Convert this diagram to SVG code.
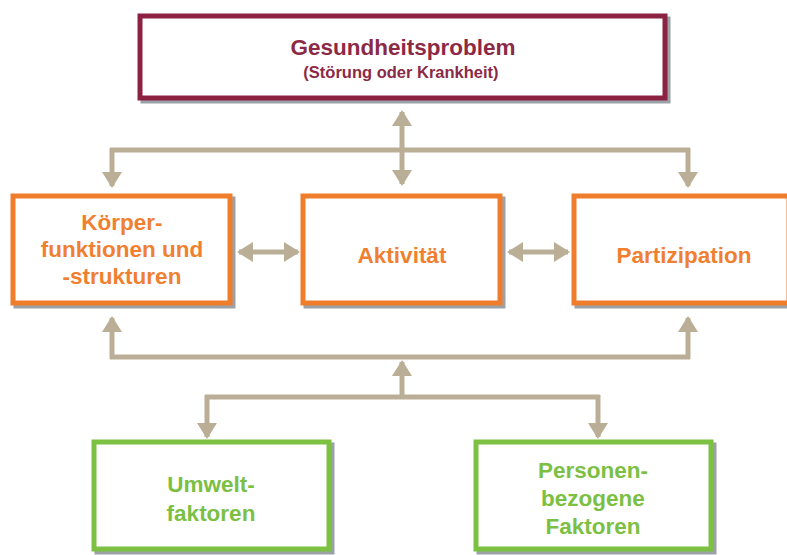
<svg xmlns="http://www.w3.org/2000/svg" width="787" height="555" viewBox="0 0 787 555">
<defs>
<marker id="ah" viewBox="0 0 16 20" refX="14" refY="10" markerWidth="16" markerHeight="20" markerUnits="userSpaceOnUse" orient="auto-start-reverse">
<path d="M0,0 L16,10 L0,20 Z" fill="#BAAF96"/>
</marker>
</defs>
<style>
.sh{fill:none;stroke:#9aa2a8;stroke-width:5}
.box{fill:#fff;stroke-width:5}
.red{stroke:#8C2242}
.org{stroke:#F07D2C}
.grn{stroke:#7DC143}
.t{font-family:"Liberation Sans",Arial,sans-serif;font-weight:bold;text-anchor:middle}
.tr{fill:#8C2A46}
.to{fill:#F07F30}
.tg{fill:#7BC043}
.c{fill:none;stroke:#BAAF96;stroke-width:5}
</style>
<rect width="787" height="555" fill="#fff"/>
<g id="connectors">
<line class="c" x1="402" y1="112" x2="402" y2="184" marker-start="url(#ah)" marker-end="url(#ah)"/>
<line class="c" x1="110" y1="150" x2="690" y2="150"/>
<line class="c" x1="112" y1="148" x2="112" y2="186" marker-end="url(#ah)"/>
<line class="c" x1="688" y1="148" x2="688" y2="186" marker-end="url(#ah)"/>
<line class="c" x1="239" y1="252" x2="298" y2="252" marker-start="url(#ah)" marker-end="url(#ah)"/>
<line class="c" x1="509" y1="252" x2="568" y2="252" marker-start="url(#ah)" marker-end="url(#ah)"/>
<line class="c" x1="112" y1="359" x2="112" y2="318" marker-end="url(#ah)"/>
<line class="c" x1="688" y1="359" x2="688" y2="318" marker-end="url(#ah)"/>
<line class="c" x1="110" y1="357" x2="690" y2="357"/>
<line class="c" x1="402" y1="399" x2="402" y2="362" marker-end="url(#ah)"/>
<line class="c" x1="205" y1="397" x2="600" y2="397"/>
<line class="c" x1="207" y1="395" x2="207" y2="437" marker-end="url(#ah)"/>
<line class="c" x1="598" y1="395" x2="598" y2="437" marker-end="url(#ah)"/>
</g>
<g id="gesundheitsproblem">
<rect class="sh" x="143" y="19" width="525" height="82"/>
<rect class="box red" x="140" y="16" width="525" height="82"/>
<text class="t tr" x="403" y="55" font-size="22.5">Gesundheitsproblem</text>
<text class="t tr" x="401" y="78" font-size="16.5">(Störung oder Krankheit)</text>
</g>
<g id="koerperfunktionen">
<rect class="sh" x="16" y="199" width="217" height="107"/>
<rect class="box org" x="13" y="196" width="217" height="107"/>
<text class="t to" x="122" y="230" font-size="22.5">Körper-</text>
<text class="t to" x="122" y="257" font-size="22.5">funktionen und</text>
<text class="t to" x="122" y="284" font-size="22.5">-strukturen</text>
</g>
<g id="aktivitaet">
<rect class="sh" x="306" y="199" width="197" height="107"/>
<rect class="box org" x="303" y="196" width="197" height="107"/>
<text class="t to" x="402" y="263" font-size="22.5">Aktivität</text>
</g>
<g id="partizipation">
<rect class="sh" x="577" y="199" width="215" height="107"/>
<rect class="box org" x="574" y="196" width="215" height="107"/>
<text class="t to" x="684" y="263" font-size="22.5">Partizipation</text>
</g>
<g id="umweltfaktoren">
<rect class="sh" x="97" y="445" width="235" height="107"/>
<rect class="box grn" x="94" y="442" width="235" height="107"/>
<text class="t tg" x="211" y="492" font-size="22.5">Umwelt-</text>
<text class="t tg" x="211" y="521" font-size="22.5">faktoren</text>
</g>
<g id="personenbezogene">
<rect class="sh" x="479" y="445" width="235" height="107"/>
<rect class="box grn" x="476" y="442" width="235" height="107"/>
<text class="t tg" x="593" y="478" font-size="22.5">Personen-</text>
<text class="t tg" x="593" y="506" font-size="22.5">bezogene</text>
<text class="t tg" x="593" y="534" font-size="22.5">Faktoren</text>
</g>
</svg>
